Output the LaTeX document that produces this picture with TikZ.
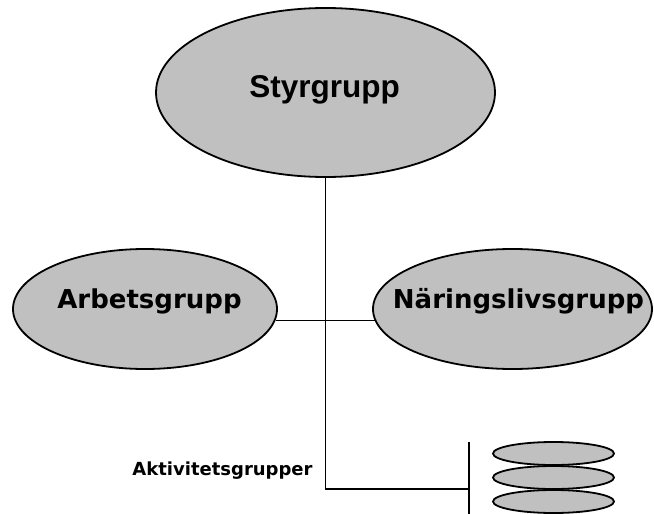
\documentclass[tikz,border=0pt]{standalone}
\usepackage{fontspec}
\setmainfont{Liberation Sans}
\newfontfamily\verd{DejaVu Sans}
\usetikzlibrary{shapes.geometric}
\definecolor{grp}{RGB}{192,192,192}
\tikzset{
  grpell/.style={ellipse, draw=black, fill=grp, line width=1.8pt, inner sep=0pt},
  conn/.style={line width=1.7pt, draw=black},
  lbl/.style={anchor=base, inner sep=0pt, text=black}
}
\begin{document}
\begin{tikzpicture}[x=1pt,y=-1pt]
\useasboundingbox (0,0) rectangle (654,514);
% ellipses
\node[grpell, minimum width=339pt, minimum height=169pt] (S) at (325.5,92.5) {};
\node[grpell, minimum width=264pt, minimum height=120pt] (L) at (145,309) {};
\node[grpell, minimum width=279pt, minimum height=120pt] (R) at (512.5,309) {};
\node[grpell, minimum width=121pt, minimum height=23pt] (a1) at (553.5,453.5) {};
\node[grpell, minimum width=121pt, minimum height=23pt] (a2) at (553.5,477.5) {};
\node[grpell, minimum width=121pt, minimum height=23pt] (a3) at (553.5,501.5) {};
% labels
\node[lbl, font={\fontsize{31.5}{36}\selectfont\bfseries}] (tS) at (324.5,97) {Styrgrupp};
\node[lbl, font={\fontsize{26}{30}\selectfont\verd\bfseries}] (tL) at (149.5,308) {Arbetsgrupp};
\node[lbl, font={\fontsize{26}{30}\selectfont\verd\bfseries}] (tR) at (518.5,308) {Näringslivsgrupp};
\node[lbl, font={\fontsize{18}{22}\selectfont\verd\bfseries}] (tA) at (222.5,475) {Aktivitetsgrupper};
% connectors
\coordinate (corner) at (325.5,489);
\coordinate (tee) at (469,489);
\coordinate (barT) at (469,442);
\coordinate (barB) at (469,514);
\draw[conn] (S.south) -- (corner) -- (tee);
\draw[conn] (barT) -- (barB);
\draw[conn] (L.-5.3) -- (L.-5.3 -| R.185);
\end{tikzpicture}
\end{document}
